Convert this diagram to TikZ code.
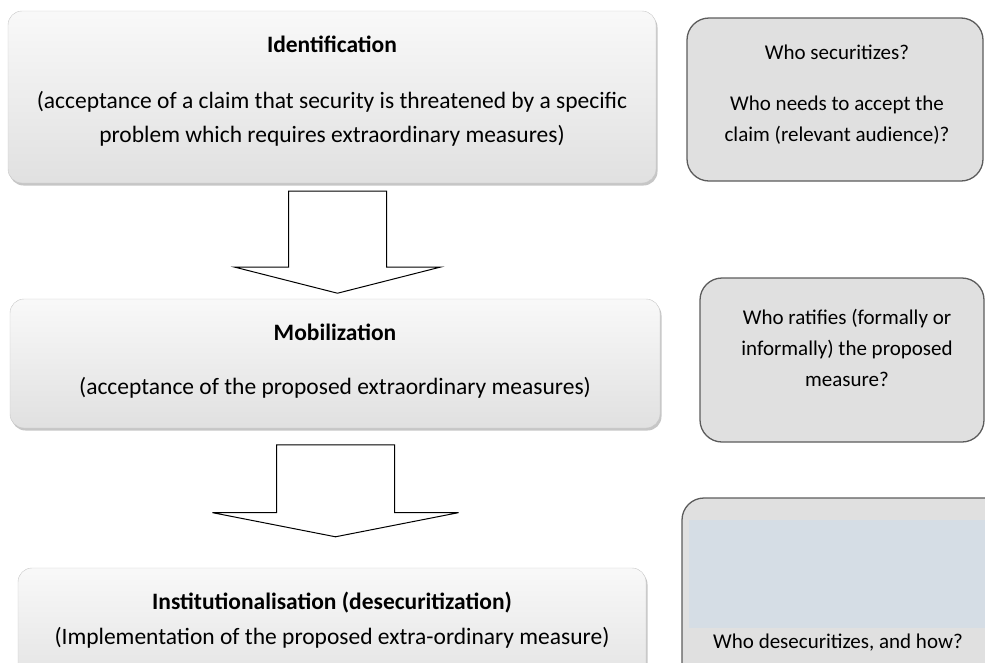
\documentclass[tikz,border=0pt]{standalone}
\usepackage{fontspec}
\setmainfont{Carlito}
\usetikzlibrary{positioning,shapes.arrows,shadows}
\definecolor{askfill}{HTML}{E0E0E0}
\definecolor{askline}{HTML}{5C5C5C}
\definecolor{notefill}{HTML}{D5DDE5}

\begin{document}
\begin{tikzpicture}[x=1pt,y=-1pt,
		stagebox/.style={rectangle,rounded corners=14pt,draw=gray!45,top color=gray!5,bottom color=gray!24,
			drop shadow={opacity=.45,shadow xshift=1.5pt,shadow yshift=-2.5pt}},
		stagetitle/.style={font=\fontsize{23.5}{34}\selectfont\bfseries},
		stagetext/.style={align=center,font=\fontsize{23.5}{34}\selectfont},
		askbox/.style={rectangle,rounded corners=22pt,draw=askline,line width=1.3pt,fill=askfill},
		asktext/.style={align=center,font=\fontsize{21}{31}\selectfont},
		blockarrow/.style={single arrow,draw,line width=1pt,fill=white,inner xsep=0pt,rotate=-90}]

		\path[use as bounding box,clip] (0,0) rectangle (985,662);

		% stages on the left
		\node[stagebox,minimum width=648pt,minimum height=172pt] (ident) at (332,97) {};
		\node[stagetitle] (identT) at (332,44) {Identification};
		\node[stagetext] (identD) at (332,119) {(acceptance of a claim that security is threatened by a specific\\problem which requires extraordinary measures)};

		\node[stagebox,minimum width=650pt,minimum height=129pt] (mobil) at (335,363.5) {};
		\node[stagetitle] (mobilT) at (335,332) {Mobilization};
		\node[stagetext] (mobilD) at (335,388) {(acceptance of the proposed extraordinary measures)};

		\node[stagebox,minimum width=628pt,minimum height=130pt] (instit) at (332,633) {};
		\node[stagetitle] (institT) at (332,603) {Institutionalisation (desecuritization)};
		\node[stagetext] (institD) at (332,638) {(Implementation of the proposed extra-ordinary measure)};

		% block arrows
		\node[blockarrow,minimum height=102pt,inner ysep=48.5pt,
			single arrow head extend=54pt,single arrow tip angle=151.5] (a1) at (337.5,236) {};
		\node[blockarrow,minimum height=92pt,inner ysep=58.5pt,
			single arrow head extend=64pt,single arrow tip angle=157.8] (a2) at (335.5,485) {};

		% questions on the right
		\node[askbox,minimum width=296pt,minimum height=163pt] (who1) at (835,99.5) {};
		\node[asktext] (who1T) at (837,52) {Who securitizes?};
		\node[asktext] (who1D) at (837,120) {Who needs to accept the\\claim (relevant audience)?};

		\node[askbox,minimum width=284pt,minimum height=164pt] (who2) at (842,360) {};
		\node[asktext] (who2T) at (847,348) {Who ratifies (formally or\\informally) the proposed\\measure?};

		\node[askbox,minimum width=330pt,minimum height=220pt] (who3) at (847,608) {};
		\node[fill=notefill,minimum width=310pt,minimum height=108pt,inner sep=0pt] (who3N) at (844,574) {};
		\node[asktext] (who3T) at (838,643) {Who desecuritizes, and how?};
\end{tikzpicture}
\end{document}
